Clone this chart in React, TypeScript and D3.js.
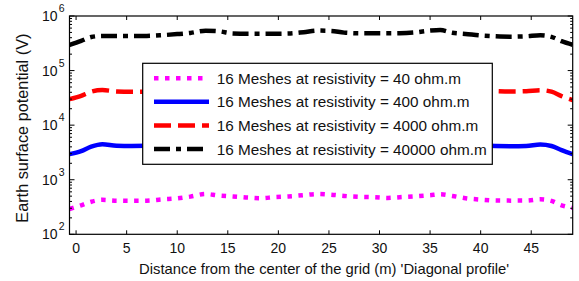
import React from "react";
import * as d3 from "d3";

// distance along the diagonal (m)
const distance = [
  -0.65, 0.5, 1.5, 2.6, 4, 5.5, 7, 8.5, 10, 11.3, 12.8, 14, 15.5, 17, 18.3, 19.6, 21, 22.5, 23.9,
  25.2, 26.5, 28, 29.5, 30.8, 32, 33.5, 35, 36, 37.2, 38.5, 40, 41.5, 43, 44.5, 45.9, 47, 48, 49.1,
];
// earth surface potential (V) for each resistivity
const rho40 = [
  291, 340, 395, 428, 414, 412, 414, 436, 455, 490, 548, 518, 495, 470, 458, 480, 494, 522, 548,
  532, 505, 485, 478, 464, 478, 496, 520, 540, 505, 458, 432, 416, 414, 415, 438, 410, 340, 305,
];
const rho400 = [
  2940, 3350, 4050, 4480, 4200, 4170, 4180, 4400, 4600, 4900, 5450, 5200, 4900, 4700, 4600, 4800,
  4900, 5200, 5450, 5300, 5000, 4850, 4800, 4650, 4800, 4950, 5200, 5400, 5000, 4600, 4300, 4150,
  4120, 4150, 4430, 4150, 3500, 2940,
];
const rho4000 = [
  30000, 34500, 41000, 43900, 41500, 40800, 41000, 43500, 45500, 49000, 54500, 52000, 49000, 47000,
  46000, 47500, 49000, 52000, 54500, 53000, 50000, 48500, 48000, 47000, 48000, 49500, 52000, 54000,
  50000, 46000, 43000, 42000, 41500, 42000, 43800, 41000, 34000, 28800,
];
const rho40000 = [
  294000, 350000, 412000, 432000, 432000, 430000, 432000, 445000, 466000, 490000, 538000, 528000,
  480000, 473000, 473000, 474000, 478000, 505000, 540000, 533000, 496000, 483000, 482000, 482000,
  484000, 500000, 540000, 553000, 494000, 470000, 440000, 425000, 418000, 425000, 443000, 415000,
  345000, 296000,
];

const xTicks = [0, 5, 10, 15, 20, 25, 30, 35, 40, 45];
const yExponents = [2, 3, 4, 5, 6];
const seriesLabels = [
  "16 Meshes at resistivity = 40 ohm.m",
  "16 Meshes at resistivity = 400 ohm.m",
  "16 Meshes at resistivity = 4000 ohm.m",
  "16 Meshes at resistivity = 40000 ohm.m",
];
const seriesValues = [rho40, rho400, rho4000, rho40000];
const seriesColors = ["#ff00ff", "#0000ff", "#ff0000", "#000000"];
const seriesDash = ["4.5 6.5", null, "17 7", "16 6 5 6"];

const W = 579;
const H = 281;
const left = 69.5;
const right = 572.7;
const top = 16;
const bottom = 234.3;
const font = "'Liberation Sans', Arial, sans-serif";

export default function App() {
  const x = d3.scaleLinear().domain([-0.65, 49.1]).range([left, right]);
  const y = d3.scaleLog().domain([100, 1e6]).range([bottom, top]);
  const line = d3
    .line<number>()
    .x((_, i) => x(distance[i]))
    .y((d) => y(d))
    .curve(d3.curveMonotoneX);

  // minor log ticks (2..9 x 10^k)
  const yMinor = y.ticks().filter((t) => !yExponents.some((e) => Math.abs(t - Math.pow(10, e)) < 1e-6));

  const legX = 142.7;
  const legY = 63.3;
  const legW = 349.6;
  const legH = 101;
  const rowY = [78.3, 101.7, 125.6, 149];

  return (
    <svg
      width={W}
      height={H}
      style={{ position: "absolute", left: 0, top: 0, background: "#fff" }}
      fontFamily={font}
    >
      <defs>
        <clipPath id="plot">
          <rect x={left} y={top} width={right - left} height={bottom - top} />
        </clipPath>
      </defs>
      <rect x={0} y={0} width={W} height={H} fill="#fff" />

      <g clipPath="url(#plot)" fill="none">
        {seriesValues.map((vals, i) => (
          <path
            key={i}
            d={line(vals) || ""}
            stroke={seriesColors[i]}
            strokeWidth={4.5}
            strokeDasharray={seriesDash[i] || undefined}
          />
        ))}
      </g>

      {/* ticks */}
      <g stroke="#000" strokeWidth={1}>
        {xTicks.map((t) => (
          <g key={t}>
            <line x1={x(t)} x2={x(t)} y1={bottom} y2={bottom - 4} />
            <line x1={x(t)} x2={x(t)} y1={top} y2={top + 4} />
          </g>
        ))}
        {yExponents.map((e) => (
          <g key={e}>
            <line x1={left} x2={left + 5} y1={y(Math.pow(10, e))} y2={y(Math.pow(10, e))} />
            <line x1={right} x2={right - 5} y1={y(Math.pow(10, e))} y2={y(Math.pow(10, e))} />
          </g>
        ))}
        {yMinor.map((t, i) => (
          <g key={i}>
            <line x1={left} x2={left + 2.5} y1={y(t)} y2={y(t)} />
            <line x1={right} x2={right - 2.5} y1={y(t)} y2={y(t)} />
          </g>
        ))}
      </g>
      <rect x={left} y={top} width={right - left} height={bottom - top} fill="none" stroke="#000" strokeWidth={1.2} />

      {/* tick labels */}
      <g fontSize={14} fill="#111">
        {xTicks.map((t) => (
          <text key={t} x={x(t)} y={bottom + 18.5} textAnchor="middle">
            {t}
          </text>
        ))}
        {yExponents.map((e) => (
          <g key={e}>
            <text x={57.5} y={y(Math.pow(10, e)) + 5} textAnchor="end">
              10
            </text>
            <text x={58.8} y={y(Math.pow(10, e)) - 4} fontSize={10.5}>
              {e}
            </text>
          </g>
        ))}
      </g>

      <text x={(left + right) / 2 + 3} y={273.5} textAnchor="middle" fontSize={14.8} fill="#111">
        Distance from the center of the grid (m) 'Diagonal profile'
      </text>
      <text
        transform={`translate(28,${(top + bottom) / 2 + 3}) rotate(-90)`}
        textAnchor="middle"
        fontSize={16.3}
        fill="#111"
      >
        Earth surface potential (V)
      </text>

      {/* legend */}
      <rect x={legX} y={legY} width={legW} height={legH} fill="#fff" stroke="#000" strokeWidth={1.2} />
      {seriesLabels.map((lab, i) => (
        <g key={i}>
          <line
            x1={154}
            x2={209}
            y1={rowY[i]}
            y2={rowY[i]}
            stroke={seriesColors[i]}
            strokeWidth={4.5}
            strokeDasharray={seriesDash[i] || undefined}
          />
          <text x={216.7} y={rowY[i] + 5.5} fontSize={15.3} fill="#111">
            {lab}
          </text>
        </g>
      ))}
    </svg>
  );
}
